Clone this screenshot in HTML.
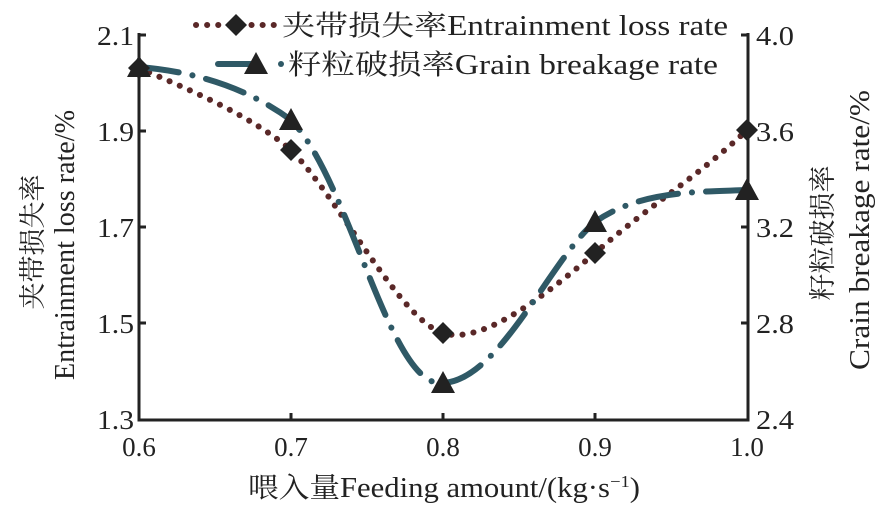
<!DOCTYPE html>
<html><head><meta charset="utf-8"><style>
body{margin:0;background:#fff}
svg text{font-family:"Liberation Serif","Noto Serif CJK SC","Noto Sans CJK SC",serif;fill:#222}
</style></head><body>
<svg width="887" height="511" viewBox="0 0 887 511" xmlns="http://www.w3.org/2000/svg">
<g stroke="#222" stroke-width="3" fill="none">
<path d="M139,33 L139,420 L748,420 L748,33"/>
<path d="M139,35 h7 M139,131 h7 M139,227 h7 M139,323 h7"/>
<path d="M748,35 h-7 M748,131 h-7 M748,227 h-7 M748,323 h-7"/>
<path d="M291,420 v-7 M443,420 v-7 M595,420 v-7"/>
</g>
<g font-size="27" text-anchor="end">
<text x="134" y="45" textLength="37" lengthAdjust="spacingAndGlyphs">2.1</text><text x="134" y="141" textLength="37" lengthAdjust="spacingAndGlyphs">1.9</text><text x="134" y="237" textLength="37" lengthAdjust="spacingAndGlyphs">1.7</text><text x="134" y="333" textLength="37" lengthAdjust="spacingAndGlyphs">1.5</text><text x="134" y="429" textLength="37" lengthAdjust="spacingAndGlyphs">1.3</text>
</g>
<g font-size="27" text-anchor="start">
<text x="756" y="45" textLength="38" lengthAdjust="spacingAndGlyphs">4.0</text><text x="756" y="141" textLength="38" lengthAdjust="spacingAndGlyphs">3.6</text><text x="756" y="237" textLength="38" lengthAdjust="spacingAndGlyphs">3.2</text><text x="756" y="333" textLength="38" lengthAdjust="spacingAndGlyphs">2.8</text><text x="756" y="429" textLength="38" lengthAdjust="spacingAndGlyphs">2.4</text>
</g>
<g font-size="27" text-anchor="middle">
<text x="139" y="456">0.6</text><text x="291" y="456">0.7</text><text x="443" y="456">0.8</text><text x="595" y="456">0.9</text><text x="747" y="456">1.0</text>
</g>
<text x="248" y="497" font-size="28" textLength="392" lengthAdjust="spacingAndGlyphs">喂入量Feeding amount/(kg·s<tspan font-size="17" dy="-10">−1</tspan><tspan dy="10">)</tspan></text>
<text transform="translate(42,242) rotate(-90)" font-size="27" text-anchor="middle">夹带损失率</text>
<text transform="translate(74,380) rotate(-90)" font-size="28" textLength="270" lengthAdjust="spacingAndGlyphs">Entrainment loss rate/%</text>
<text transform="translate(832,233) rotate(-90)" font-size="27" text-anchor="middle">籽粒破损率</text>
<text transform="translate(869,370) rotate(-90)" font-size="28" textLength="280" lengthAdjust="spacingAndGlyphs">Crain breakage rate/%</text>

<path d="M139,68 C190,90 250,115 291,150 C340,200 400,320 443,333 C480,345 540,300 595,253 C650,205 700,175 747,130" fill="none" stroke="#5a2828" stroke-width="6" stroke-linecap="round" stroke-dasharray="0.1 11"/>
<path d="M139,67 C200,72 250,90 291,120 C350,180 390,390 443,383 C500,380 550,260 595,222 C640,190 700,192 747,190" fill="none" stroke="#2f5966" stroke-width="6" stroke-linecap="round" stroke-dasharray="40 14 0.1 14"/>

<g fill="#222">
<path d="M139,57 l11,11 -11,11 -11,-11z M291,139 l11,11 -11,11 -11,-11z M443,322 l11,11 -11,11 -11,-11z M595,242 l11,11 -11,11 -11,-11z M747,119 l11,11 -11,11 -11,-11z"/>
<path d="M139,55 l12,22 h-24z M291,108 l12,22 h-24z M443,371 l12,22 h-24z M595,210 l12,22 h-24z M747,178 l12,22 h-24z"/>
</g>
<line x1="196" y1="25" x2="277" y2="25" stroke="#5a2828" stroke-width="6" stroke-linecap="round" stroke-dasharray="0.1 11"/>
<path d="M236,14 l11,11 -11,11 -11,-11z" fill="#222"/>
<text x="282" y="35" font-size="28" textLength="446" lengthAdjust="spacingAndGlyphs">夹带损失率Entrainment  loss rate</text>
<line x1="218" y1="64" x2="255" y2="64" stroke="#2f5966" stroke-width="6" stroke-linecap="round"/>
<circle cx="281" cy="64" r="3" fill="#2f5966"/>
<path d="M256,52 l12,22 h-24z" fill="#222"/>
<text x="288" y="74" font-size="28" textLength="430" lengthAdjust="spacingAndGlyphs">籽粒破损率Grain breakage rate</text>
</svg>
</body></html>
